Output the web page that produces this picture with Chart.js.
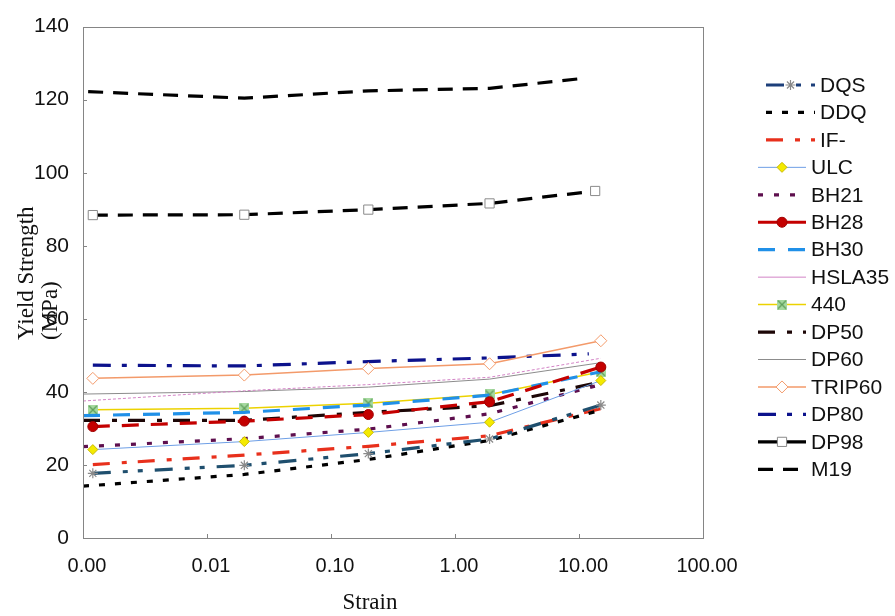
<!DOCTYPE html>
<html>
<head>
<meta charset="utf-8">
<script src="https://cdn.jsdelivr.net/npm/chart.js@4.4.1/dist/chart.umd.min.js"></script>
<style>
  body { margin: 0; background: #fff; }
  #wrap { width: 895px; height: 616px; }
</style>
</head>
<body>
<div id="wrap"><canvas id="myChart" width="895" height="616"></canvas></div>
<script>
'use strict';
// strain values (x, log scale)
let strainPts = [0.0012, 0.02, 0.2, 1.9, 15];
let strainEdge = [0.001, 0.02, 0.2, 1.9, 15];
let strainDP80 = [0.0012, 0.02, 0.2, 1.9, 12];
let strainDP98 = [0.0012, 0.02, 0.2, 1.9, 13.5];
let strainM19 = [0.0011, 0.02, 0.2, 1.9, 10];

// yield strength (MPa)
let dqs = [17.7, 19.9, 23.1, 27.1, 36.4];
let ddq = [14.2, 17.4, 21.5, 26.7, 35.0];
let ifSteel = [20.1, 22.7, 25.1, 28.0, 35.4];
let ulc = [24.2, 26.4, 28.9, 31.7, 43.1];
let bh21 = [25.0, 27.2, 29.8, 34.0, 42.0];
let bh28 = [30.5, 32.0, 33.8, 37.3, 46.8];
let bh30 = [33.5, 34.4, 36.4, 39.1, 45.5];
let hsla35 = [37.5, 40.3, 42.0, 44.0, 49.2];
let s440 = [35.1, 35.5, 36.9, 39.3, 45.5];
let dp50 = [32.2, 32.2, 34.4, 36.2, 42.7];
let dp60 = [39.4, 40.1, 41.3, 43.5, 48.0];
let trip60 = [43.7, 44.6, 46.4, 47.7, 54.0];
let dp80 = [47.3, 47.1, 48.3, 49.3, 50.4];
let dp98 = [88.4, 88.5, 89.9, 91.6, 95.0];
let m19 = [122.2, 120.4, 122.4, 123.1, 125.7];

let xTicks = [0.001, 0.01, 0.1, 1, 10, 100];
let yTicks = [0, 20, 40, 60, 80, 100, 120, 140];

function pts(xs, ys) {
  return ys.map((v, i) => ({ x: xs[i], y: v }));
}

// green box with an x for the 440 marker
let box440 = document.createElement('canvas');
box440.width = 10; box440.height = 10;
(function () {
  let c = box440.getContext('2d');
  c.fillStyle = '#a6d9a0';
  c.fillRect(0, 0, 10, 10);
  c.strokeStyle = '#5f9f5a';
  c.lineWidth = 1.2;
  c.beginPath();
  c.moveTo(1, 1); c.lineTo(9, 9);
  c.moveTo(9, 1); c.lineTo(1, 9);
  c.stroke();
})();

function ds(label, xs, ys, color, width, dash, extra) {
  return Object.assign({
    label: label,
    data: pts(xs, ys),
    borderColor: color,
    backgroundColor: color,
    borderWidth: width,
    borderDash: dash,
    pointRadius: 0,
    tension: 0,
    fill: false
  }, extra || {});
}

let datasets = [
  ds('DQS', strainPts, dqs, '#1f4f6e', 3.2, [18, 12, 5, 10, 5, 12],
    { pointStyle: 'star', pointRadius: 5, pointBorderColor: '#8a8a8a', pointBackgroundColor: '#8a8a8a', pointBorderWidth: 1.2, legendColor: '#1c3f7a' }),
  ds('DDQ', strainEdge, ddq, '#000000', 3.2, [6, 10]),
  ds('IF-', strainPts, ifSteel, '#e8301c', 3.2, [17, 12, 5, 11]),
  ds('ULC', strainPts, ulc, '#6e9fe6', 1, [],
    { pointStyle: 'rectRot', pointRadius: 5, pointBackgroundColor: '#f4ea00', pointBorderColor: '#c9b800', pointBorderWidth: 1 }),
  ds('BH21', strainEdge, bh21, '#5e0f4e', 3.2, [5, 11]),
  ds('BH28', strainPts, bh28, '#c40000', 3.2, [17, 12],
    { pointStyle: 'circle', pointRadius: 5, pointBackgroundColor: '#c40000', pointBorderColor: '#a00000', pointBorderWidth: 1, legendDash: [] }),
  ds('BH30', strainEdge, bh30, '#2090e8', 3.2, [17, 13]),
  ds('HSLA35', strainEdge, hsla35, '#d383c6', 1, [3, 2], { legendDash: [] }),
  ds('440', strainPts, s440, '#ecd200', 1.5, [],
    { pointStyle: box440, pointRadius: 5 }),
  ds('DP50', strainEdge, dp50, '#1c0606', 3.2, [17, 12, 5, 11]),
  ds('DP60', strainEdge, dp60, '#8c8c8c', 1, []),
  ds('TRIP60', strainPts, trip60, '#f39a6a', 1.5, [],
    { pointStyle: 'rectRot', pointRadius: 6, pointBackgroundColor: '#ffffff', pointBorderColor: '#f39a6a', pointBorderWidth: 1 }),
  ds('DP80', strainDP80, dp80, '#0c128c', 3.2, [18, 11, 5, 11]),
  ds('DP98', strainDP98, dp98, '#000000', 3.2, [15, 10],
    { pointStyle: 'rect', pointRadius: 6.5, pointBackgroundColor: '#ffffff', pointBorderColor: '#8a8a8a', pointBorderWidth: 1, legendDash: [] }),
  ds('M19', strainM19, m19, '#000000', 3.2, [15, 10])
];

function drawMarker(ctx, d, cx, cy) {
  let st = d.pointStyle;
  let r = d.pointRadius;
  if (!st || !r) return;
  ctx.save();
  ctx.setLineDash([]);
  ctx.fillStyle = d.pointBackgroundColor || d.borderColor;
  ctx.strokeStyle = d.pointBorderColor || d.borderColor;
  ctx.lineWidth = d.pointBorderWidth || 1;
  ctx.beginPath();
  if (typeof st === 'object') {
    ctx.drawImage(st, cx - st.width / 2, cy - st.height / 2);
  } else if (st === 'circle') {
    ctx.arc(cx, cy, r, 0, Math.PI * 2);
    ctx.fill(); ctx.stroke();
  } else if (st === 'rectRot') {
    ctx.moveTo(cx, cy - r); ctx.lineTo(cx + r, cy); ctx.lineTo(cx, cy + r); ctx.lineTo(cx - r, cy); ctx.closePath();
    ctx.fill(); ctx.stroke();
  } else if (st === 'rect') {
    let s = r * Math.SQRT1_2;
    ctx.rect(cx - s, cy - s, 2 * s, 2 * s);
    ctx.fill(); ctx.stroke();
  } else if (st === 'star') {
    for (let k = 0; k < 4; k++) {
      let a = k * Math.PI / 4;
      ctx.moveTo(cx - Math.cos(a) * r, cy - Math.sin(a) * r);
      ctx.lineTo(cx + Math.cos(a) * r, cy + Math.sin(a) * r);
    }
    ctx.stroke();
  }
  ctx.restore();
}

// frame, inward ticks, axis titles and legend
let extras = {
  id: 'extras',
  afterDraw(chart) {
    let ctx = chart.ctx;
    let a = chart.chartArea;
    let xs = chart.scales.x, ys = chart.scales.y;
    ctx.save();
    ctx.strokeStyle = '#858585';
    ctx.lineWidth = 1;
    ctx.setLineDash([]);
    ctx.strokeRect(Math.round(a.left) + 0.5, Math.round(a.top) + 0.5, Math.round(a.right - a.left), Math.round(a.bottom - a.top));
    ctx.beginPath();
    yTicks.forEach(v => {
      let y = Math.round(ys.getPixelForValue(v)) + 0.5;
      ctx.moveTo(a.left, y); ctx.lineTo(a.left + 4, y);
    });
    xTicks.forEach(v => {
      let x = Math.round(xs.getPixelForValue(v)) + 0.5;
      ctx.moveTo(x, a.bottom); ctx.lineTo(x, a.bottom - 4);
    });
    ctx.stroke();

    // axis titles
    ctx.fillStyle = '#111';
    ctx.font = '23px "Liberation Serif", "Times New Roman", serif';
    ctx.textAlign = 'center';
    ctx.textBaseline = 'middle';
    ctx.fillText('Strain', 370, 603);
    ctx.save();
    ctx.translate(33, 340);
    ctx.rotate(-Math.PI / 2);
    ctx.textAlign = 'left';
    ctx.textBaseline = 'alphabetic';
    ctx.fillText('Yield Strength', 0, 0);
    ctx.restore();
    ctx.save();
    ctx.translate(57, 340);
    ctx.rotate(-Math.PI / 2);
    ctx.textAlign = 'left';
    ctx.textBaseline = 'alphabetic';
    ctx.fillText('(MPa)', 0, 0);
    ctx.restore();

    // legend
    ctx.font = '21px "Liberation Sans", Arial, sans-serif';
    ctx.textBaseline = 'middle';
    ctx.textAlign = 'left';
    chart.data.datasets.forEach((d, i) => {
      let y = 85 + 27.45 * i;
      let x0 = i < 3 ? 766 : 758;
      let x1 = i < 3 ? 815 : 806;
      ctx.save();
      ctx.strokeStyle = d.legendColor || d.borderColor;
      ctx.lineWidth = d.borderWidth;
      ctx.setLineDash(d.legendDash || d.borderDash);
      ctx.beginPath();
      ctx.moveTo(x0, y); ctx.lineTo(x1, y);
      ctx.stroke();
      ctx.restore();
      drawMarker(ctx, d, (x0 + x1) / 2, y);
      ctx.fillStyle = '#111';
      ctx.fillText(d.label, i < 3 ? 820 : 811, y + 1);
    });
    ctx.restore();
  }
};

let chart = new Chart(document.getElementById('myChart'), {
  type: 'line',
  data: { datasets: datasets },
  options: {
    responsive: false,
    animation: false,
    devicePixelRatio: 1,
    layout: { padding: { top: 14, right: 192, left: 0, bottom: 0 } },
    plugins: { legend: { display: false }, tooltip: { enabled: false } },
    scales: {
      x: {
        type: 'logarithmic',
        min: 0.001,
        max: 100,
        afterBuildTicks: (scale) => { scale.ticks = xTicks.map(v => ({ value: v })); },
        afterFit: (scale) => { scale.height = 78; },
        grid: { display: false, drawTicks: false },
        border: { display: false },
        ticks: {
          autoSkip: false,
          maxRotation: 0,
          padding: 16,
          labelOffset: 4,
          color: '#111',
          font: { family: '"Liberation Sans", Arial, sans-serif', size: 20 },
          callback: (v) => Number(v).toFixed(2)
        }
      },
      y: {
        min: 0,
        max: 140,
        afterBuildTicks: (scale) => { scale.ticks = yTicks.map(v => ({ value: v })); },
        afterFit: (scale) => { scale.width = 83; },
        grid: { display: false, drawTicks: false },
        border: { display: false },
        ticks: {
          padding: 14,
          color: '#111',
          font: { family: '"Liberation Sans", Arial, sans-serif', size: 21 }
        }
      }
    }
  },
  plugins: [extras]
});
</script>
</body>
</html>
